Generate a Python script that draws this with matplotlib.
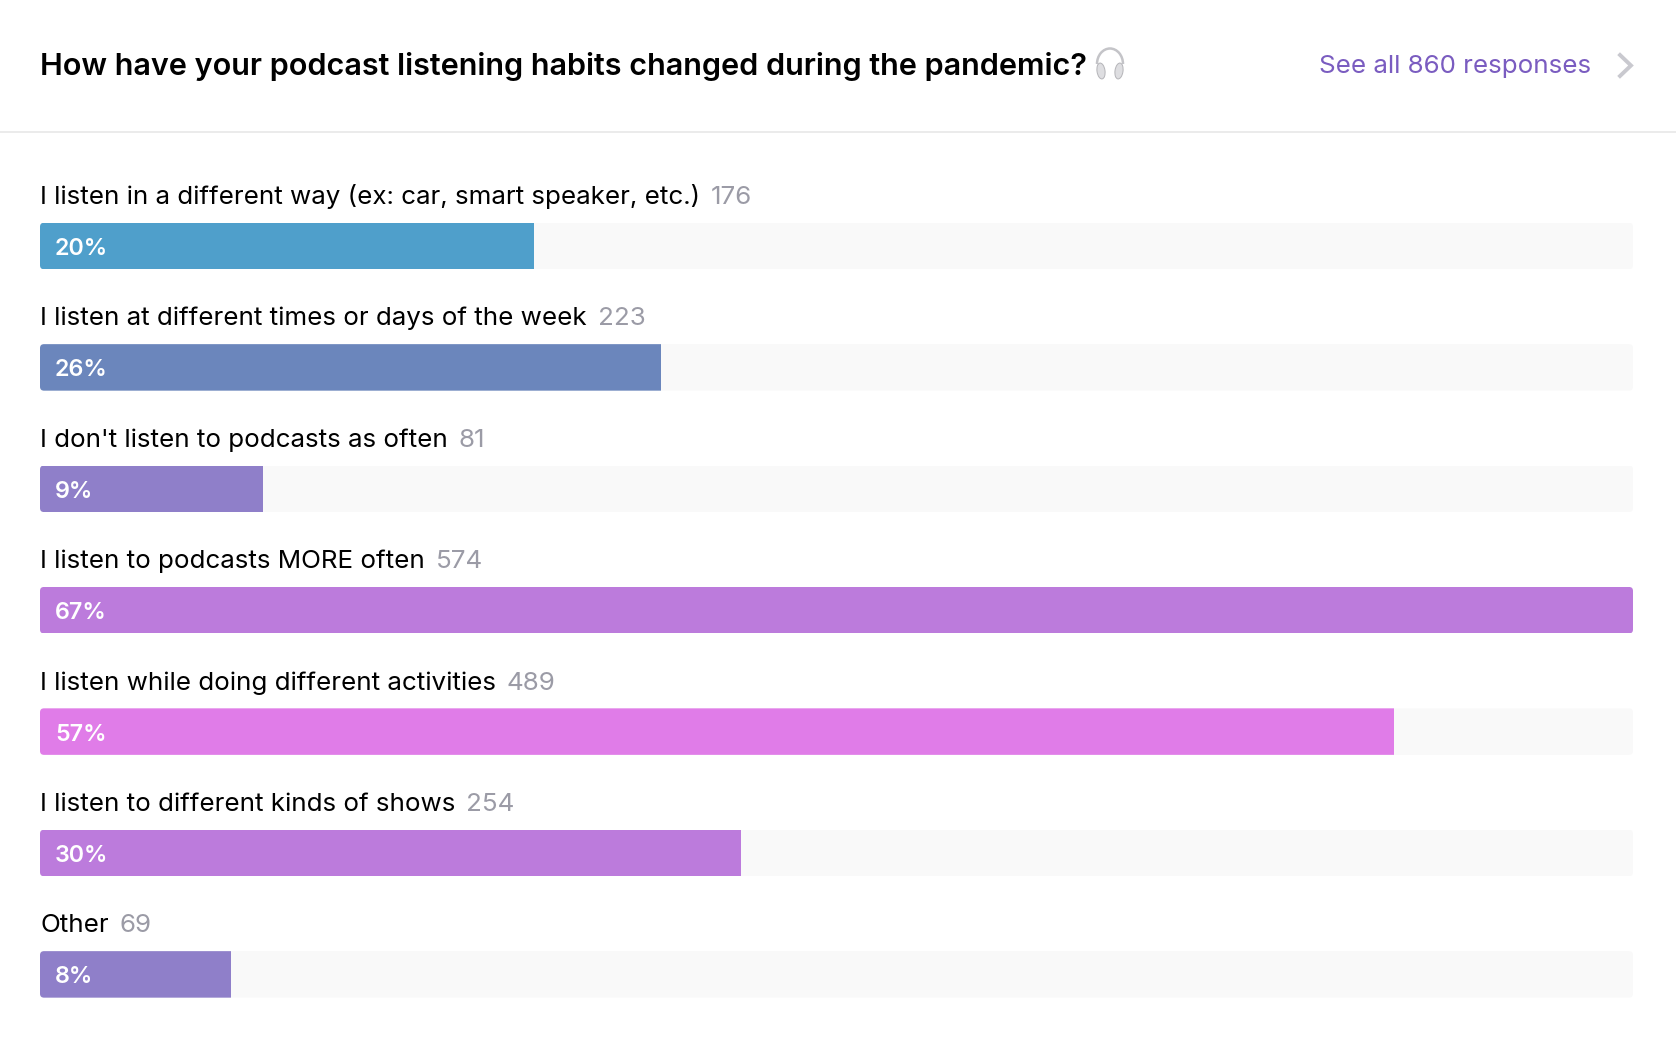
import matplotlib
matplotlib.use('Agg')
import matplotlib.pyplot as plt
from matplotlib.patches import FancyBboxPatch, Arc, Ellipse
from matplotlib.transforms import IdentityTransform

# data
title = 'How have your podcast listening habits changed during the pandemic?'
link_text = 'See all 860 responses'
categories = ['I listen in a different way (ex: car, smart speaker, etc.)',
              'I listen at different times or days of the week',
              "I don't listen to podcasts as often",
              'I listen to podcasts MORE often',
              'I listen while doing different activities',
              'I listen to different kinds of shows',
              'Other']
counts = [176, 223, 81, 574, 489, 254, 69]
percents = ['20%', '26%', '9%', '67%', '57%', '30%', '8%']
# length of each bar as a share of the full track
track_share = [31.0, 39.0, 14.0, 100.0, 85.0, 44.0, 12.0]
colors = ['#4f9fcb', '#6b86bc', '#8f7fc9', '#bc7bdc', '#e07ce8', '#bc7bdc', '#8f7fc9']

W, H = 1676, 1062
plt.rcParams['font.family'] = ['Inter', 'DejaVu Sans']

fig = plt.figure(figsize=(W / 100, H / 100), dpi=100, facecolor='white')

# overlay in pixels for the header
deco = fig.add_axes([0, 0, 1, 1])
deco.set_xlim(0, W)
deco.set_ylim(H, 0)
deco.axis('off')

deco.text(40, 75, title, fontsize=22.0, fontweight=600, color='black', va='baseline')
deco.text(1318.5, 73.5, link_text, fontsize=18.7, color='#7a5cc0', va='baseline')
deco.plot([1620, 1631, 1620], [55, 65.5, 76], color='#c9c9cf', lw=2.8, solid_joinstyle='miter')
deco.plot([0, W], [131.5, 131.5], color='#e8e8e8', lw=1.2)

# headphones
deco.add_patch(Arc((1110, 64), 26, 31, theta1=180, theta2=360, color='#c4c4c8', lw=1.8))
deco.add_patch(Ellipse((1101, 71), 8, 16, angle=-8, fc='#dedee1', ec='#b4b4b8', lw=0.7))
deco.add_patch(Ellipse((1119, 71), 8, 16, angle=8, fc='#dedee1', ec='#b4b4b8', lw=0.7))

# bars, one row every 121.4 px
ax = fig.add_axes([40 / W, 1 - 1035.1 / H, 1593 / W, 849.8 / H])
ax.set_xlim(0, 100)
ax.set_ylim(6.5, -0.5)
ax.axis('off')
ax.patch.set_alpha(0)

rows = range(len(categories))
bar_h = 46.5 / 121.4
renderer = fig.canvas.get_renderer()

for i in rows:
    track = ax.barh(i, 100, height=bar_h, color='#f9f9f9', linewidth=0)[0]
    bar = ax.barh(i, track_share[i], height=bar_h, color=colors[i], linewidth=0)[0]

    # round the corners of the row
    x0, y0 = ax.transData.transform((0, i + bar_h / 2))
    x1, y1 = ax.transData.transform((100, i - bar_h / 2))
    clip = FancyBboxPatch((x0, y0), x1 - x0, y1 - y0, boxstyle='round,pad=0,rounding_size=4',
                          transform=IdentityTransform())
    track.set_clip_path(clip)
    bar.set_clip_path(clip)

    ax.annotate(percents[i], (0, i), xytext=(15, -9), textcoords='offset pixels', color='white',
                fontsize=16.8, fontweight=600, va='baseline')
    label = ax.annotate(categories[i], (0, i), xytext=(0, 42), textcoords='offset pixels',
                        color='black', fontsize=18.7, va='baseline')
    box = label.get_window_extent(renderer)
    ax.annotate(str(counts[i]), (0, i), xytext=(box.width + 11, 42), textcoords='offset pixels',
                color='#9b9ba6', fontsize=18.7, va='baseline')

fig.savefig('out.png', dpi=100, facecolor='white')
